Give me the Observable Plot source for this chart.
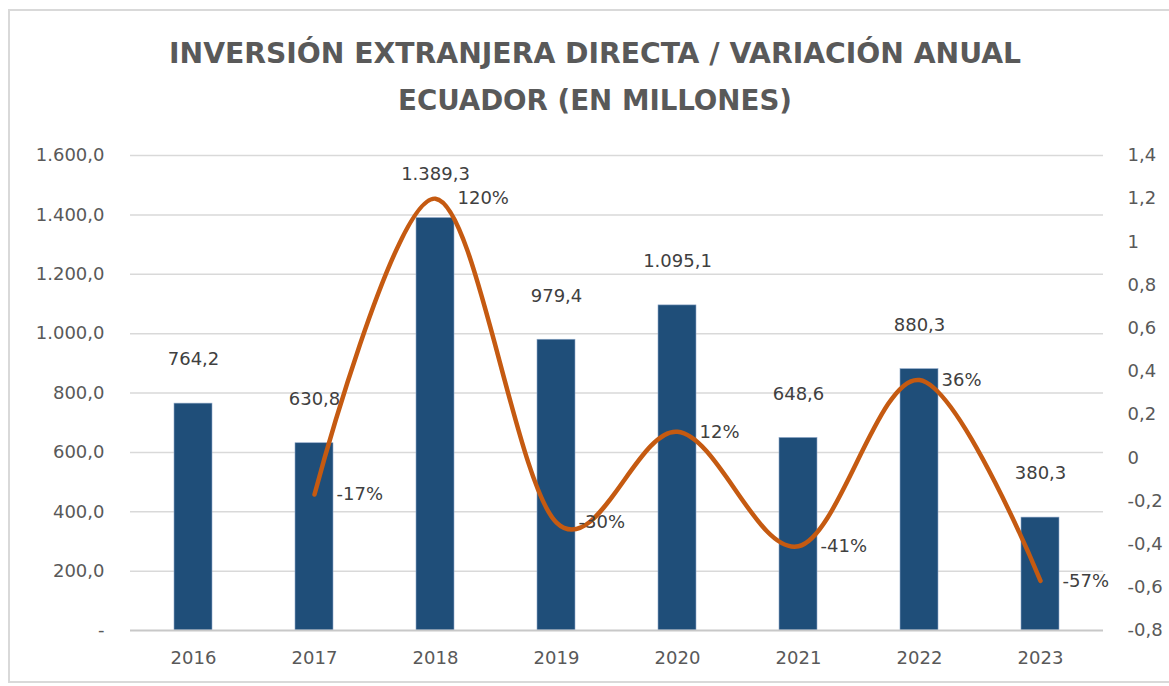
<!DOCTYPE html>
<html>
<head>
<meta charset="utf-8">
<script src="https://cdn.jsdelivr.net/npm/d3@7"></script>
<script src="https://cdn.jsdelivr.net/npm/@observablehq/plot@0.6"></script>
<style>
  html, body { margin: 0; padding: 0; background: #fff; }
  #wrap { position: relative; width: 1169px; height: 686px; overflow: hidden; background: #fff; }
  #frame { position: absolute; left: 8px; top: 9px; width: 1200px; height: 674px; border: 2px solid #D9D9D9; box-sizing: border-box; }
  #title { position: absolute; left: 0; top: 0; }
  #chart { position: absolute; left: 0; top: 130px; }
  #chart svg text { font-family: "DejaVu Sans", sans-serif; }
</style>
</head>
<body>
<div id="wrap">
  <div id="frame"></div>
  <svg id="title" width="1169" height="130" xmlns="http://www.w3.org/2000/svg">
    <text x="595" y="63" text-anchor="middle" textLength="852" lengthAdjust="spacingAndGlyphs"
      font-family="'DejaVu Sans Condensed', 'DejaVu Sans', sans-serif" font-weight="bold" font-size="29" fill="#595959">INVERSIÓN EXTRANJERA DIRECTA / VARIACIÓN ANUAL</text>
    <text x="595" y="110" text-anchor="middle" textLength="394" lengthAdjust="spacingAndGlyphs"
      font-family="'DejaVu Sans Condensed', 'DejaVu Sans', sans-serif" font-weight="bold" font-size="29" fill="#595959">ECUADOR (EN MILLONES)</text>
  </svg>
  <div id="chart"></div>
</div>
<script>
// ---- data ----
const years = ["2016", "2017", "2018", "2019", "2020", "2021", "2022", "2023"];
const ied = [764.2, 630.8, 1389.3, 979.4, 1095.1, 648.6, 880.3, 380.3];
const variationYears = ["2017", "2018", "2019", "2020", "2021", "2022", "2023"];
const variation = [-0.17, 1.20, -0.30, 0.12, -0.41, 0.36, -0.57];
const leftTicks = [0, 200, 400, 600, 800, 1000, 1200, 1400, 1600];
const rightTicks = [-0.8, -0.6, -0.4, -0.2, 0, 0.2, 0.4, 0.6, 0.8, 1.0, 1.2, 1.4];

// ---- tables ----
const bars = years.map((y, i) => ({year: y, value: ied[i]}));
const line = variationYears.map((y, i) => ({year: y, v: variation[i]}));

// secondary axis mapping: [-0.8, 1.4] -> [0, 1600]
const vMin = -0.8, vMax = 1.4, yMax = 1600;
const toY = v => (v - vMin) / (vMax - vMin) * yMax;
const fromY = y => y / yMax * (vMax - vMin) + vMin;

const fmtLeft = d => d === 0 ? "-" : d.toLocaleString("de-DE", {minimumFractionDigits: 1, maximumFractionDigits: 1});
const fmtRight = d => {
  const v = Math.round(fromY(d) * 10) / 10;
  return String(v).replace(".", ",");
};
const fmtVal = d => d.toLocaleString("de-DE", {minimumFractionDigits: 1, maximumFractionDigits: 1});
const fmtPct = d => Math.round(d * 100) + "%";

const chart = Plot.plot({
  width: 1169,
  height: 556,
  marginTop: 25,
  marginBottom: 56,
  marginLeft: 130,
  marginRight: 66,
  style: {fontFamily: "DejaVu Sans, sans-serif", background: "transparent"},
  x: {type: "band", domain: years, paddingInner: 0.687, paddingOuter: 0.34, label: null},
  y: {domain: [0, yMax], label: null},
  marks: [
    Plot.ruleY(leftTicks.filter(d => d !== 0), {stroke: "#D9D9D9", strokeWidth: 1.5}),
    Plot.barY(bars, {x: "year", y: "value", fill: "#1F4E79", stroke: "#8FA8C8", strokeWidth: 0.6}),
    Plot.ruleY([0], {stroke: "#C8C8C8", strokeWidth: 2}),
    Plot.axisX({tickSize: 0, tickPadding: 21, fontSize: 18, fill: "#595959", label: null}),
    Plot.axisY({anchor: "left", ticks: leftTicks, tickFormat: fmtLeft, tickSize: 0, tickPadding: 26, fontSize: 18, fill: "#595959", label: null}),
    Plot.axisY({anchor: "right", ticks: rightTicks.map(toY), tickFormat: fmtRight, tickSize: 0, tickPadding: 24, fontSize: 18, fill: "#595959", label: null}),
    Plot.text(bars, {x: "year", y: "value", text: d => fmtVal(d.value), dy: -44, fontSize: 18, fill: "#404040"}),
    Plot.line(line, {x: "year", y: d => toY(d.v), stroke: "#C55A11", strokeWidth: 4.5, curve: "cardinal", strokeLinecap: "round", strokeLinejoin: "round"}),
    Plot.text(line, {x: "year", y: d => toY(d.v), text: d => fmtPct(d.v), dx: 22, textAnchor: "start", fontSize: 18, fill: "#404040"})
  ]
});
document.getElementById("chart").appendChild(chart);
</script>
</body>
</html>
